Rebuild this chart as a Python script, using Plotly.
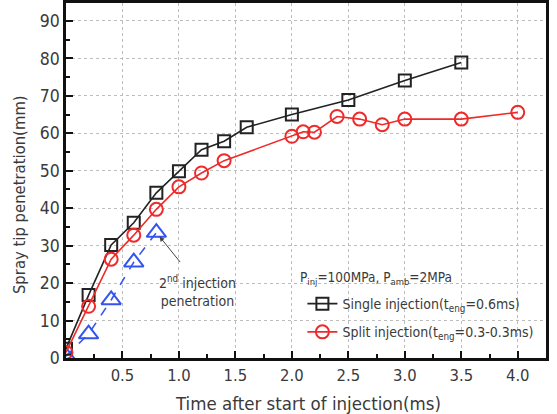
import plotly.graph_objects as go

# Data
single_t = [0, 0.2, 0.4, 0.6, 0.8, 1.0, 1.2, 1.4, 1.6, 2.0, 2.5, 3.0, 3.5]
single_y = [2.5, 16.8, 30.2, 36.1, 44.1, 49.9, 55.6, 57.9, 61.6, 65.0, 68.9, 74.1, 78.9]

split_t = [0, 0.2, 0.4, 0.6, 0.8, 1.0, 1.2, 1.4, 2.0, 2.1, 2.2, 2.4, 2.6, 2.8, 3.0, 3.5, 4.0]
split_y = [1.5, 13.8, 26.4, 32.8, 39.7, 45.7, 49.4, 52.7, 59.2, 60.4, 60.3, 64.5, 63.8, 62.3, 63.8, 63.8, 65.6]

second_t = [0, 0.2, 0.4, 0.6, 0.8]
second_y = [0.5, 6.4, 15.5, 25.6, 33.5]

x_ticks = [0.5, 1.0, 1.5, 2.0, 2.5, 3.0, 3.5, 4.0]
x_tick_labels = ["0.5", "1.0", "1.5", "2.0", "2.5", "3.0", "3.5", "4.0"]
y_ticks = [0, 10, 20, 30, 40, 50, 60, 70, 80, 90]

FONT = "DejaVu Sans Condensed, DejaVu Sans, Verdana, sans-serif"
TXT = "#3a3a3a"

fig = go.Figure()
fig.add_trace(go.Scatter(
    x=second_t, y=second_y, mode="lines+markers", showlegend=False,
    line=dict(color="#3355ee", width=1.6, dash="dash"),
    marker=dict(symbol="triangle-up-open", size=17, color="#3355ee", line=dict(width=2)),
))
fig.add_trace(go.Scatter(
    x=single_t, y=single_y, mode="lines+markers", legendgroup="a",
    name="Single injection(t<sub>eng</sub>=0.6ms)",
    line=dict(color="#222222", width=1.6),
    marker=dict(symbol="square-open", size=12, color="#222222", line=dict(width=2)),
))
fig.add_trace(go.Scatter(
    x=split_t, y=split_y, mode="lines+markers", legendgroup="b",
    name="Split injection(t<sub>eng</sub>=0.3-0.3ms)",
    line=dict(color="#ee2a2a", width=1.6),
    marker=dict(symbol="circle-open", size=13, color="#ee2a2a", line=dict(width=2)),
))

fig.add_annotation(
    x=second_t[-1], y=second_y[-1], xref="x", yref="y",
    ax=25, ay=31, axref="pixel", ayref="pixel",
    text="", showarrow=True, arrowhead=2, arrowsize=1, arrowwidth=1, arrowcolor="#444",
    standoff=5,
)
fig.add_annotation(
    x=1.16, y=18.0, xref="x", yref="y",
    text="2<sup>nd</sup> injection<br>penetration", showarrow=False,
    font=dict(family=FONT, size=14, color=TXT), align="center",
)
# legend heading
fig.add_annotation(
    x=(298 - 66) / 480, y=(358 - 278) / 355, xref="paper", yref="paper",
    xanchor="left", yanchor="middle", showarrow=False,
    text="P<sub>inj</sub>=100MPa, P<sub>amb</sub>=2MPa",
    font=dict(family=FONT, size=13.5, color=TXT),
)
# axis titles
fig.add_annotation(
    x=0.5, y=0, xref="paper", yref="paper", xanchor="center", yanchor="middle",
    xshift=2, yshift=-45, showarrow=False,
    text="Time after start of injection(ms)", font=dict(family=FONT, size=18.5, color=TXT),
)
fig.add_annotation(
    x=0, y=0.459, xref="paper", yref="paper", xanchor="center", yanchor="middle",
    xshift=-47, textangle=-90, showarrow=False,
    text="Spray tip penetration(mm)", font=dict(family=FONT, size=16.5, color=TXT),
)

fig.update_layout(
    width=557, height=414,
    margin=dict(l=66, r=11, t=3, b=56, autoexpand=False),
    paper_bgcolor="white", plot_bgcolor="white",
    font=dict(family=FONT, size=14, color=TXT),
    legend=dict(
        x=0.4925, y=0.197, xanchor="left", yanchor="top",
        bgcolor="rgba(0,0,0,0)",
        font=dict(size=14, family=FONT, color=TXT),
        tracegroupgap=7,
    ),
)
fig.update_xaxes(
    range=[0, 4.25], tickvals=x_ticks, ticktext=x_tick_labels,
    ticks="inside", ticklen=7, tickwidth=2, tickcolor="#111",
    minor=dict(tickvals=[0.25, 0.75, 1.25, 1.75, 2.25, 2.75, 3.25, 3.75, 4.25],
               ticks="inside", ticklen=4, tickwidth=1.5, tickcolor="#111", showgrid=False),
    showline=True, linewidth=2.5, linecolor="#111", mirror=True,
    showgrid=True, gridcolor="#bdbdbd", griddash="dot", gridwidth=1,
    zeroline=False, automargin=False,
    tickfont=dict(size=16.5),
)
fig.update_yaxes(
    range=[0, 94.8], tickvals=y_ticks,
    ticks="inside", ticklen=7, tickwidth=2, tickcolor="#111",
    minor=dict(tickvals=[5, 15, 25, 35, 45, 55, 65, 75, 85],
               ticks="inside", ticklen=4, tickwidth=1.5, tickcolor="#111", showgrid=False),
    showline=True, linewidth=2.5, linecolor="#111", mirror=True,
    showgrid=True, gridcolor="#bdbdbd", griddash="dot", gridwidth=1,
    zeroline=False, automargin=False,
    tickfont=dict(size=17.5),
)

fig.write_html("out.html")
